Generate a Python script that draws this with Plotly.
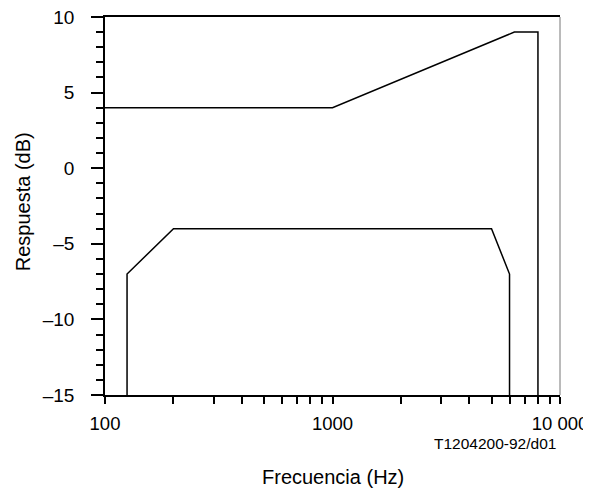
import plotly.graph_objects as go

# Upper limit mask
upper_freq = [100, 1000, 6300, 8000, 8000]
upper_db = [4, 4, 9, 9, -15]

# Lower limit mask
lower_freq = [125, 125, 200, 5000, 6000, 6000]
lower_db = [-15, -7, -4, -4, -7, -15]

x_tickvals = [100, 200, 300, 400, 500, 600, 700, 800, 900,
              1000, 2000, 3000, 4000, 5000, 6000, 7000, 8000, 9000, 10000]
x_ticktext = ["100"] + [""] * 8 + ["1000"] + [""] * 8 + ["10 000"]

y_tickvals = [10, 5, 0, -5, -10, -15]
y_ticktext = ["10", "5", "0", "–5", "–10", "–15"]

FONT = "Liberation Sans, Arial, sans-serif"

# page body has an 8px margin, so the figure is slightly smaller than the window
W, H = 583, 480
L, R, T, B = 97, 31, 9, 93
PW, PH = W - L - R, H - T - B

fig = go.Figure()
fig.add_trace(go.Scatter(x=upper_freq, y=upper_db, mode="lines",
                         line=dict(color="black", width=1.5), showlegend=False))
fig.add_trace(go.Scatter(x=lower_freq, y=lower_db, mode="lines",
                         line=dict(color="black", width=1.5), showlegend=False))

fig.update_layout(
    width=W, height=H,
    margin=dict(l=L, r=R, t=T, b=B),
    paper_bgcolor="white", plot_bgcolor="white",
    font=dict(family=FONT, size=19, color="black"),
    xaxis=dict(
        type="log", range=[2, 4], automargin=False,
        tickvals=x_tickvals, ticktext=x_ticktext,
        ticks="outside", ticklen=7, tickwidth=1.5, tickcolor="black",
        showline=True, linecolor="black", linewidth=1.5, mirror=True,
        showgrid=False, zeroline=False,
        tickfont=dict(size=18.5),
        ticklabelstandoff=4,
        ticklabeloverflow="allow",
    ),
    yaxis=dict(
        range=[-15, 10], automargin=False,
        tickvals=y_tickvals, ticktext=y_ticktext,
        ticks="outside", ticklen=12, tickwidth=1.5, tickcolor="black",
        minor=dict(dtick=1, ticks="outside", ticklen=7, tickwidth=1.5, tickcolor="black"),
        showline=True, linecolor="black", linewidth=1.5,
        showgrid=False, zeroline=False,
        tickfont=dict(size=19),
        ticklabelstandoff=13,
        ticklabeloverflow="allow",
    ),
    shapes=[dict(type="line", xref="paper", yref="paper", x0=1, x1=1, y0=0, y1=1,
                 line=dict(color="#777777", width=1))],
    annotations=[
        dict(text="Frecuencia (Hz)", xref="paper", yref="paper",
             x=0.5, y=-82 / PH, xanchor="center", yanchor="middle",
             showarrow=False, font=dict(size=20)),
        dict(text="Respuesta (dB)", xref="paper", yref="paper", textangle=-90,
             x=-82 / PW, y=0.51, xanchor="center", yanchor="middle",
             showarrow=False, font=dict(size=20)),
        dict(text="T1204200-92/d01", xref="paper", yref="paper",
             x=453 / PW, y=-49 / PH, xanchor="right", yanchor="middle",
             showarrow=False, font=dict(size=15.5)),
    ],
)

fig.write_html("out.html")
